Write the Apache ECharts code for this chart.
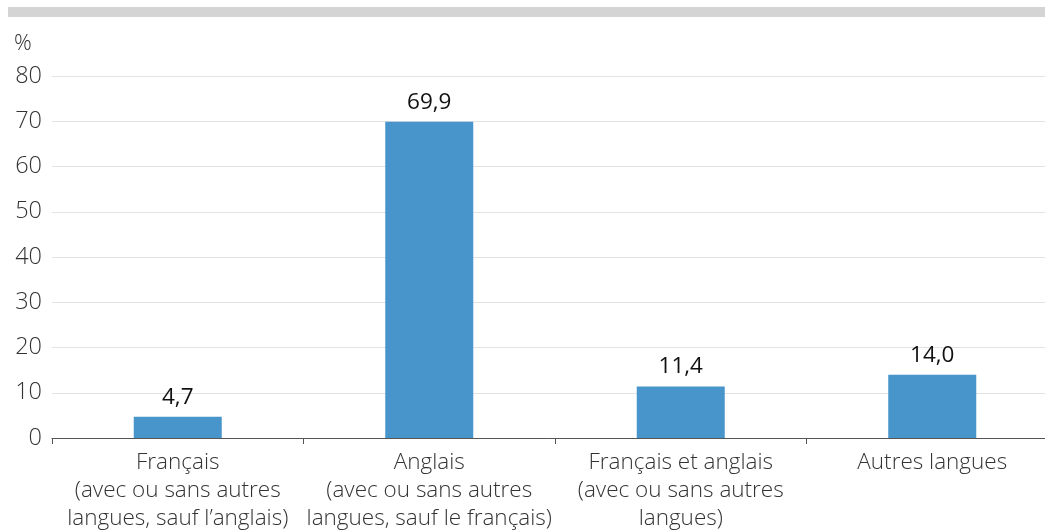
<!DOCTYPE html>
<html>
<head>
<meta charset="utf-8">
<script src="https://cdn.jsdelivr.net/npm/echarts@6/dist/echarts.min.js"></script>
<style>html,body{margin:0;padding:0;background:#fff;}#c{width:1045px;height:531px;}</style>
</head>
<body>
<div id="c"></div>
<script>
const categories = [
  "Français\n(avec ou sans autres\nlangues, sauf l’anglais)",
  "Anglais\n(avec ou sans autres\nlangues, sauf le français)",
  "Français et anglais\n(avec ou sans autres\nlangues)",
  "Autres langues"
];
const values = [4.7, 69.9, 11.4, 14.0];
const yTicks = [0, 10, 20, 30, 40, 50, 60, 70, 80];

const chart = echarts.init(document.getElementById('c'), null, {renderer: 'canvas'});
const font = '"Open Sans", "Noto Sans", sans-serif';
chart.setOption({
  animation: false,
  textStyle: {fontFamily: font},
  graphic: [
    {type: 'rect', left: 8, top: 7, shape: {width: 1037, height: 10}, style: {fill: '#d4d4d4'}},
    {type: 'text', left: 14, top: 33, style: {text: '%', font: '300 22px ' + font, fill: '#333'}}
  ],
  grid: {left: 52, width: 1006, top: 76, height: 362, containLabel: false, outerBoundsMode: 'none'},
  xAxis: {
    type: 'category',
    data: categories,
    axisLine: {lineStyle: {color: '#555', width: 1}},
    axisTick: {show: true, length: 6, lineStyle: {color: '#555'}},
    axisLabel: {color: '#333', fontSize: 22.5, fontWeight: 300, lineHeight: 28, margin: 11, fontFamily: font, interval: 0}
  },
  yAxis: {
    type: 'value',
    min: yTicks[0],
    max: yTicks[yTicks.length - 1],
    interval: 10,
    axisLine: {show: false},
    axisTick: {show: false},
    splitLine: {lineStyle: {color: '#e2e2e2', width: 1}},
    axisLabel: {color: '#333', fontSize: 23.5, fontWeight: 300, margin: 10, fontFamily: font}
  },
  series: [{
    type: 'bar',
    data: values,
    barWidth: 88,
    itemStyle: {color: '#4795cb'},
    label: {
      show: true,
      position: 'top',
      distance: 8,
      color: '#111',
      fontSize: 22.5,
      fontWeight: 400,
      fontFamily: font,
      formatter: p => p.value.toFixed(1).replace('.', ',')
    }
  }]
});
</script>
</body>
</html>
